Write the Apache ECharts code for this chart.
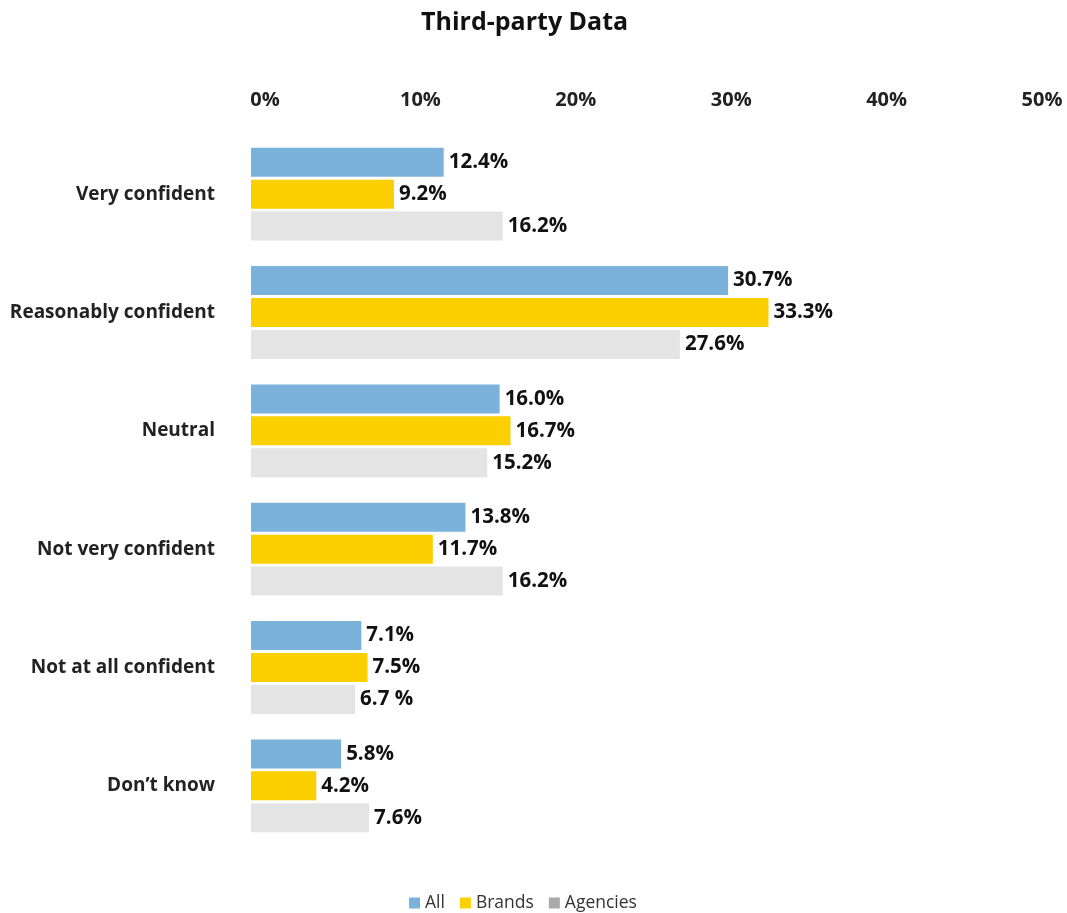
<!DOCTYPE html>
<html>
<head>
<meta charset="utf-8">
<script src="https://cdn.jsdelivr.net/npm/echarts@6/dist/echarts.min.js"></script>
<style>
  html, body { margin: 0; padding: 0; background: #fff; }
  #chart { width: 1067px; height: 913px; }
</style>
</head>
<body>
<div id="chart"></div>
<script>
// Confidence levels, top to bottom
const categories = ['Very confident', 'Reasonably confident', 'Neutral', 'Not very confident', 'Not at all confident', 'Don\u2019t know'];

// Share of respondents (%) per group
const allValues      = [12.4, 30.7, 16.0, 13.8, 7.1, 5.8];
const brandsValues   = [9.2, 33.3, 16.7, 11.7, 7.5, 4.2];
const agenciesValues = [16.2, 27.6, 15.2, 16.2, 6.7, 7.6];

const seriesNames = ['All', 'Brands', 'Agencies'];
const xTicks = [0, 10, 20, 30, 40, 50];

const FONT = '"Open Sans", Lato, sans-serif';
const colors = { All: '#7bb2dc', Brands: '#fcd000', Agencies: '#e4e4e4' };
const legendColors = { All: '#7bb2dc', Brands: '#fcd000', Agencies: '#a9a9a9' };

// Agencies "Not at all confident" label is printed with a space before the percent sign
function fmt(seriesName) {
  return function (p) {
    const s = p.value.toFixed(1);
    if (seriesName === 'Agencies' && p.dataIndex === 4) return s + ' %';
    return s + '%';
  };
}

function makeSeries(name, values) {
  return {
    name: name,
    type: 'bar',
    data: values,
    barWidth: 29,
    barGap: '10%',
    itemStyle: { color: colors[name] },
    label: {
      show: true,
      position: 'right',
      distance: 5,
      formatter: fmt(name),
      fontFamily: FONT,
      fontWeight: 'bold',
      fontSize: 20.5,
      color: '#111'
    },
    emphasis: { disabled: true }
  };
}

const chart = echarts.init(document.getElementById('chart'), null, { renderer: 'canvas' });
chart.setOption({
  animation: false,
  title: {
    text: 'Third-party Data',
    left: 416,
    top: 5,
    textStyle: { fontFamily: FONT, fontWeight: 'bold', fontSize: 25, color: '#111' }
  },
  legend: {
    top: 889,
    left: 404,
    itemWidth: 11,
    itemHeight: 11,
    itemGap: 15,
    icon: 'rect',
    textStyle: { fontFamily: FONT, fontSize: 17.5, color: '#333' },
    data: seriesNames.map(n => ({ name: n, itemStyle: { color: legendColors[n] } }))
  },
  grid: { left: 251, right: 39, top: 135, bottom: 68, containLabel: false },
  xAxis: {
    type: 'value',
    position: 'top',
    min: xTicks[0],
    max: xTicks[xTicks.length - 1],
    interval: 10,
    axisLine: { show: false },
    axisTick: { show: false },
    splitLine: { show: false },
    axisLabel: {
      margin: 25,
      formatter: '{value}%',
      fontFamily: FONT,
      fontWeight: 'bold',
      fontSize: 20,
      color: '#222',
      padding: [0, 0, 0, 28]
    }
  },
  yAxis: {
    type: 'category',
    data: categories,
    inverse: true,
    axisLine: { show: false },
    axisTick: { show: false },
    axisLabel: {
      margin: 36,
      fontFamily: FONT,
      fontWeight: 'bold',
      fontSize: 19,
      color: '#222',
      padding: [3, 0, 0, 0]
    }
  },
  series: [
    makeSeries('All', allValues),
    makeSeries('Brands', brandsValues),
    makeSeries('Agencies', agenciesValues)
  ]
});
</script>
</body>
</html>
